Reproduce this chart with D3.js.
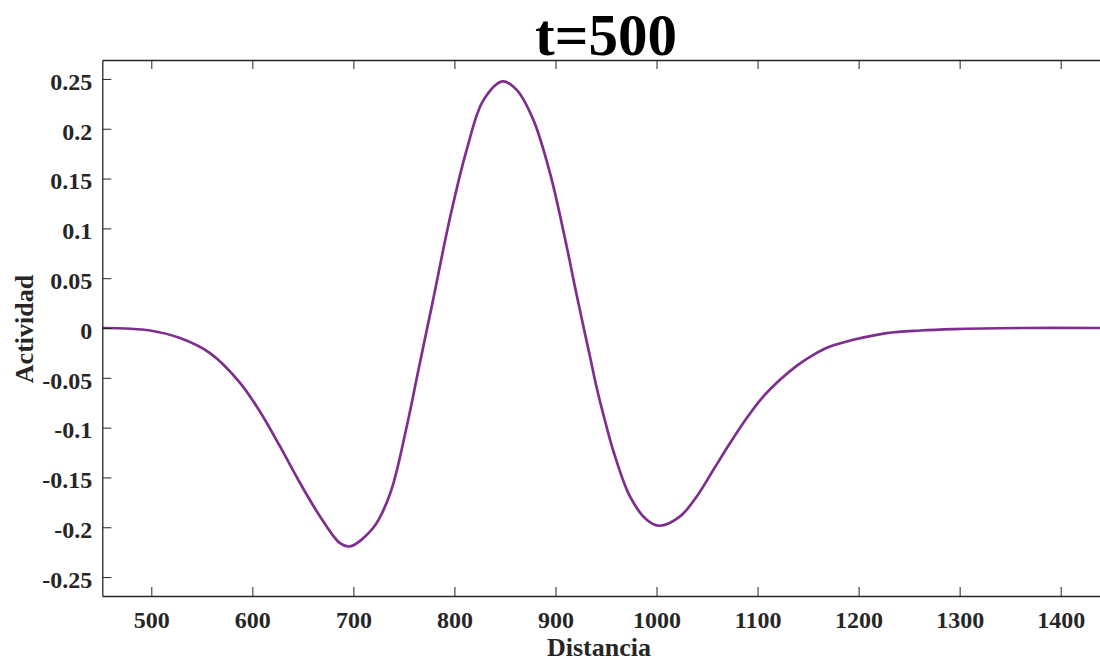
<!DOCTYPE html>
<html>
<head>
<meta charset="utf-8">
<script src="https://cdn.jsdelivr.net/npm/d3@7"></script>
<style>
  html, body { margin: 0; padding: 0; background: #fff; }
  svg { display: block; }
  text { font-family: "Liberation Serif", "Times New Roman", serif; font-weight: bold; }
</style>
</head>
<body>
<svg id="chart" width="1100" height="662"></svg>
<script>
// ---- data ----
const distancia = [451.5, 498.7, 528.4, 558.1, 587.8, 607.6, 627.4, 647.2, 667.0, 686.8, 696.7, 719.7, 736.3, 752.8, 764.2, 779.1, 795.6, 812.1, 828.6, 847.8, 861.6, 878.1, 894.6, 911.1, 919.3, 927.5, 934.2, 940.8, 949.0, 957.2, 973.7, 990.3, 1002.8, 1023.3, 1039.8, 1056.3, 1072.8, 1089.3, 1105.8, 1122.2, 1138.7, 1155.2, 1171.7, 1194.8, 1227.8, 1260.8, 1293.8, 1359.6, 1438.9];
const actividad = [0, -0.0025, -0.0101, -0.0252, -0.0550, -0.0841, -0.1189, -0.1556, -0.1891, -0.2160, -0.2192, -0.2005, -0.1664, -0.0988, -0.0429, 0.0293, 0.1106, 0.1788, 0.2285, 0.2475, 0.2390, 0.2089, 0.1554, 0.0818, 0.0413, 0.0022, -0.0289, -0.0600, -0.0931, -0.1232, -0.1691, -0.1925, -0.1985, -0.1891, -0.1691, -0.1423, -0.1155, -0.0904, -0.0687, -0.0520, -0.0380, -0.0269, -0.0186, -0.0118, -0.0051, -0.0025, -0.0011, 0, 0];
const xTicks = [500, 600, 700, 800, 900, 1000, 1100, 1200, 1300, 1400];
const yTicks = [-0.25, -0.2, -0.15, -0.1, -0.05, 0, 0.05, 0.1, 0.15, 0.2, 0.25];
const yTickLabels = ["-0.25", "-0.2", "-0.15", "-0.1", "-0.05", "0", "0.05", "0.1", "0.15", "0.2", "0.25"];
const titleText = "t=500";
const xLabel = "Distancia";
const yLabel = "Actividad";
const xDomain = [451.5, 1438.9];
const yDomain = [-0.269, 0.269];

// ---- layout ----
const mLeft = 102.3, mRight = 1100, mTop = 60, mBottom = 596;
const axisColor = "#262626";
const lineColor = "#7E2F8E";
const tickLen = 9;

const svg = d3.select("#chart");
const x = d3.scaleLinear().domain(xDomain).range([mLeft, mRight]);
const y = d3.scaleLinear().domain(yDomain).range([mBottom, mTop]);

// curve
const pts = distancia.map((d, i) => [d, actividad[i]]);
const line = d3.line().x(d => x(d[0])).y(d => y(d[1])).curve(d3.curveCatmullRom.alpha(0.5));
svg.append("path")
  .datum(pts)
  .attr("d", line)
  .attr("fill", "none")
  .attr("stroke", lineColor)
  .attr("stroke-width", 2.7)
  .attr("stroke-linejoin", "round");

// bottom axis
const gx = svg.append("g")
  .attr("transform", `translate(0,${mBottom})`)
  .call(d3.axisBottom(x).tickValues(xTicks).tickSizeInner(-tickLen).tickSizeOuter(0).tickPadding(15).tickFormat(d3.format("d")));
// top axis (ticks only)
const gt = svg.append("g")
  .attr("transform", `translate(0,${mTop})`)
  .call(d3.axisTop(x).tickValues(xTicks).tickSizeInner(-tickLen).tickSizeOuter(0).tickFormat(""));
// left axis
const gy = svg.append("g")
  .attr("transform", `translate(${mLeft},0)`)
  .call(d3.axisLeft(y).tickValues(yTicks).tickSizeInner(-tickLen).tickSizeOuter(0).tickPadding(10)
    .tickFormat((d, i) => yTickLabels[i]));

[gx, gt, gy].forEach(g => {
  g.selectAll("path.domain").attr("stroke", axisColor).attr("stroke-width", 1.3);
  g.selectAll(".tick line").attr("stroke", axisColor).attr("stroke-width", 1);
  g.selectAll(".tick text")
    .attr("fill", axisColor)
    .style("font-size", "24px")
    .style("font-family", '"Liberation Serif", "Times New Roman", serif')
    .style("font-weight", "bold");
});
gy.selectAll(".tick text").attr("dy", "0.43em");
gx.selectAll(".tick text").attr("dy", "0.71em");

// title
svg.append("text")
  .attr("x", 606).attr("y", 55)
  .attr("text-anchor", "middle")
  .attr("fill", "#000")
  .style("font-size", "59px")
  .text(titleText);

// x label
svg.append("text")
  .attr("x", 599).attr("y", 656)
  .attr("text-anchor", "middle")
  .attr("fill", axisColor)
  .style("font-size", "26px")
  .text(xLabel);

// y label
svg.append("text")
  .attr("transform", `translate(33,329) rotate(-90)`)
  .attr("text-anchor", "middle")
  .attr("fill", axisColor)
  .style("font-size", "26px")
  .text(yLabel);
</script>
</body>
</html>
